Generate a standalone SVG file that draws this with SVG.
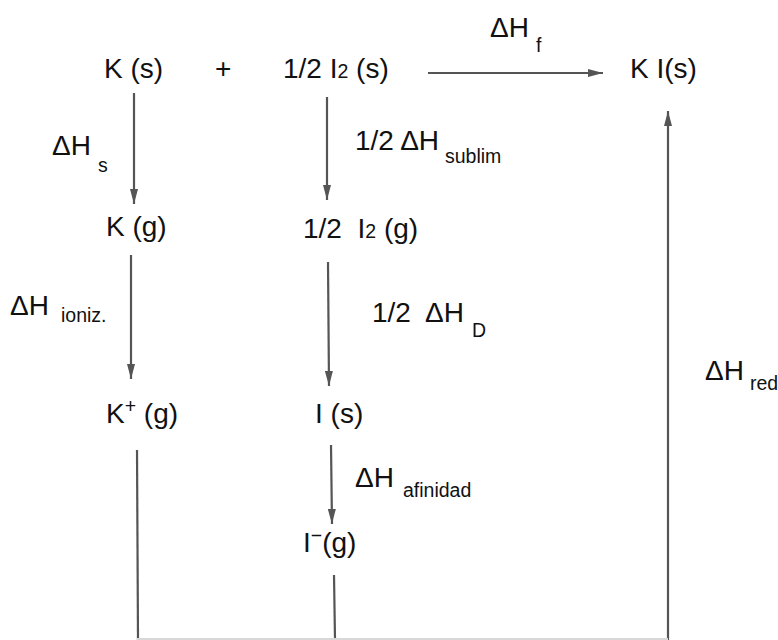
<svg xmlns="http://www.w3.org/2000/svg" width="778" height="640" viewBox="0 0 778 640">
<defs>
<marker id="ah" viewBox="0 0 15 8" refX="15" refY="4" markerWidth="15" markerHeight="8" markerUnits="userSpaceOnUse" orient="auto">
<path d="M0,0 L15,4 L0,8 Z" fill="#555"/>
</marker>
<style>
.t{font-family:"Liberation Sans",Arial,sans-serif;font-size:28px;fill:#111}
.s{font-size:19.5px}
.c{stroke:#555;stroke-width:2.2;fill:none}
.b{stroke:#d8d8d8;stroke-width:2;fill:none}
</style>
</defs>
<rect width="778" height="640" fill="#fff"/>
<g id="connectors">
<line class="c" x1="428" y1="73" x2="603" y2="73" marker-end="url(#ah)"/>
<line class="c" x1="134" y1="93" x2="134" y2="204" marker-end="url(#ah)"/>
<line class="c" x1="327" y1="97" x2="327" y2="200" marker-end="url(#ah)"/>
<line class="c" x1="131" y1="255" x2="131" y2="379" marker-end="url(#ah)"/>
<line class="c" x1="328" y1="262" x2="329" y2="386" marker-end="url(#ah)"/>
<line class="c" x1="331" y1="445" x2="332" y2="524" marker-end="url(#ah)"/>
<line class="c" x1="137" y1="450" x2="138" y2="640"/>
<line class="c" x1="334" y1="575" x2="335" y2="640"/>
<line class="c" x1="668" y1="640" x2="668" y2="111" marker-end="url(#ah)"/>
<line class="b" x1="137" y1="639" x2="668" y2="639"/>
</g>
<g id="Ks"><text class="t" x="104" y="78">K (s)</text></g>
<g id="plus"><text class="t" x="215" y="78">+</text></g>
<g id="I2s"><text class="t" x="283" y="78">1/2 I<tspan class="s">2</tspan> (s)</text></g>
<g id="KIs"><text class="t" x="630" y="78">K I(s)</text></g>
<g id="dHf"><text class="t" x="490" y="37">ΔH</text><text class="t s" x="536" y="52">f</text></g>
<g id="dHs"><text class="t" x="52" y="155">ΔH</text><text class="t s" x="98" y="172">s</text></g>
<g id="dHsub"><text class="t" x="355" y="150">1/2 ΔH</text><text class="t s" x="445" y="163">sublim</text></g>
<g id="Kg"><text class="t" x="106" y="236">K (g)</text></g>
<g id="I2g"><text class="t" x="303" y="238" xml:space="preserve">1/2  I<tspan class="s">2</tspan> (g)</text></g>
<g id="dHion"><text class="t" x="10" y="315">ΔH</text><text class="t s" x="61" y="322">ioniz.</text></g>
<g id="dHD"><text class="t" x="372" y="322" xml:space="preserve">1/2  ΔH</text><text class="t s" x="472" y="337">D</text></g>
<g id="Kpg"><text class="t" x="106" y="423">K<tspan class="s" dy="-10">+</tspan><tspan dy="10"> (g)</tspan></text></g>
<g id="Is"><text class="t" x="315" y="423">I (s)</text></g>
<g id="dHred"><text class="t" x="705" y="380">ΔH</text><text class="t s" x="750" y="390">red</text></g>
<g id="dHaf"><text class="t" x="355" y="487">ΔH</text><text class="t s" x="403" y="497">afinidad</text></g>
<g id="Img"><text class="t" x="303" y="552">I<tspan class="s" dy="-10">−</tspan><tspan dy="10">(g)</tspan></text></g>
</svg>
